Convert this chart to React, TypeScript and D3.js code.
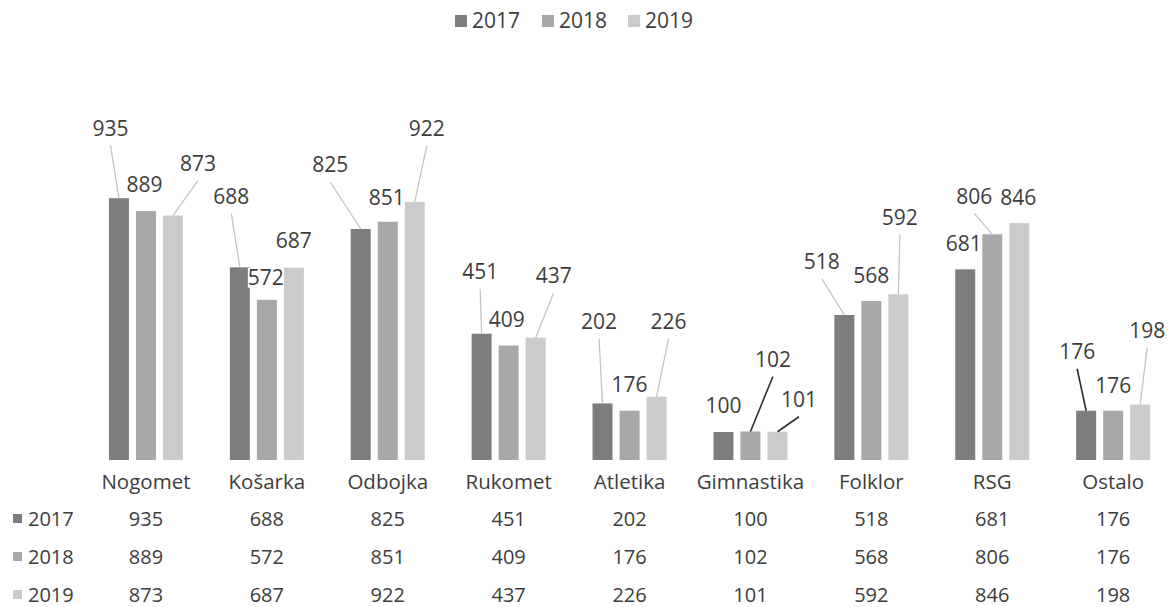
import React from "react";
import * as d3 from "d3";

const categories = [
  "Nogomet",
  "Košarka",
  "Odbojka",
  "Rukomet",
  "Atletika",
  "Gimnastika",
  "Folklor",
  "RSG",
  "Ostalo",
];
const years = ["2017", "2018", "2019"];
const values2017 = [935, 688, 825, 451, 202, 100, 518, 681, 176];
const values2018 = [889, 572, 851, 409, 176, 102, 568, 806, 176];
const values2019 = [873, 687, 922, 437, 226, 101, 592, 846, 198];
const seriesValues = [values2017, values2018, values2019];

const seriesColors = ["#7d7d7d", "#a8a8a8", "#cbcbcb"];

// hand-placed data labels: [dx, dy] from the bar top centre, leader 0 none / 1 light / 2 dark
const labelOffsets: [number, number, number][][] = [
  [[-8.5, -70, 1], [-8.5, -71, 1], [-30.5, -64, 1], [-1.5, -62, 1], [-3.5, -82, 1], [0, -26, 0], [-22.5, -53, 1], [-1.5, -26, 0], [-9, -59, 2]],
  [[-1.5, -26, 0], [-1, -22, 0], [-1, -24, 0], [-2, -26, 0], [0, -26, 0], [22.5, -72, 2], [0, -25, 0], [-18, -38, 1], [0, -25, 0]],
  [[25, -52, 1], [0, -27, 0], [12, -73, 1], [18, -62, 1], [12, -75, 1], [21.5, -32, 2], [1.5, -77, 1], [-1, -25, 0], [7, -74, 1]],
];

const W = 1173;
const H = 607;
const font = "'Open Sans', 'Noto Sans', sans-serif";
const textColor = "#3d3d3d";

export default function App() {
  const x0 = d3.scaleBand<string>().domain(categories).range([85.5, 1173.6]);
  const x1 = d3
    .scaleBand<string>()
    .domain(years)
    .range([-37, 37])
    .paddingInner(0.26);
  const y = d3.scaleLinear().domain([0, 1000]).range([460, 180]);

  const center = (c: string) => (x0(c) ?? 0) + x0.bandwidth() / 2;
  const barCenter = (c: string, s: string) =>
    center(c) + (x1(s) ?? 0) + x1.bandwidth() / 2;

  // top legend
  const legendX = d3.scaleOrdinal<string, number>().domain(years).range([455, 542, 628]);
  // table rows
  const rowY = d3.scaleOrdinal<string, number>().domain(years).range([519, 557, 595]);

  return (
    <svg
      width={W}
      height={H}
      style={{ position: "absolute", left: 0, top: 0, background: "#fff" }}
      fontFamily={font}
    >
      <rect width={W} height={H} fill="#fff" />

      {/* legend */}
      {years.map((s, i) => (
        <g key={s}>
          <rect x={legendX(s)} y={15} width={12} height={12} fill={seriesColors[i]} />
          <text x={legendX(s) + 17} y={21} dy="0.35em" fontSize={21} fill={textColor}>
            {s}
          </text>
        </g>
      ))}

      {/* bars */}
      {years.map((s, si) =>
        categories.map((c, ci) => {
          const v = seriesValues[si][ci];
          return (
            <rect
              key={s + c}
              x={barCenter(c, s) - x1.bandwidth() / 2}
              y={y(v)}
              width={x1.bandwidth()}
              height={y(0) - y(v)}
              fill={seriesColors[si]}
            />
          );
        })
      )}

      {/* leader lines */}
      {years.map((s, si) =>
        categories.map((c, ci) => {
          const [dx, dy, leader] = labelOffsets[si][ci];
          if (!leader) return null;
          const bx = barCenter(c, s);
          const by = y(seriesValues[si][ci]);
          return (
            <line
              key={"l" + s + c}
              x1={bx + dx}
              y1={by + dy + 17}
              x2={bx}
              y2={by}
              stroke={leader === 2 ? "#2e2e2e" : "#c4c4c4"}
              strokeWidth={leader === 2 ? 1.6 : 1.3}
            />
          );
        })
      )}

      {/* data labels */}
      {years.map((s, si) =>
        categories.map((c, ci) => {
          const v = seriesValues[si][ci];
          const [dx, dy] = labelOffsets[si][ci];
          const lx = barCenter(c, s) + dx;
          const ly = y(v) + dy;
          return (
            <g key={"t" + s + c}>
              <rect x={lx - 18} y={ly - 10} width={36} height={20} fill="#fff" />
              <text
                x={lx}
                y={ly}
                dy="0.35em"
                textAnchor="middle"
                fontSize={21}
                fill={textColor}
              >
                {v}
              </text>
            </g>
          );
        })
      )}

      {/* category labels */}
      {categories.map((c) => (
        <text
          key={"c" + c}
          x={center(c)}
          y={482}
          dy="0.35em"
          textAnchor="middle"
          fontSize={20.5}
          fill={textColor}
        >
          {c}
        </text>
      ))}

      {/* data table */}
      {years.map((s, si) => (
        <g key={"row" + s}>
          <rect x={13} y={rowY(s) - 5} width={9} height={9} fill={seriesColors[si]} />
          <text x={28} y={rowY(s)} dy="0.35em" fontSize={20} fill={textColor}>
            {s}
          </text>
          {categories.map((c, ci) => (
            <text
              key={c}
              x={center(c)}
              y={rowY(s)}
              dy="0.35em"
              textAnchor="middle"
              fontSize={20}
              fill={textColor}
            >
              {seriesValues[si][ci]}
            </text>
          ))}
        </g>
      ))}
    </svg>
  );
}
